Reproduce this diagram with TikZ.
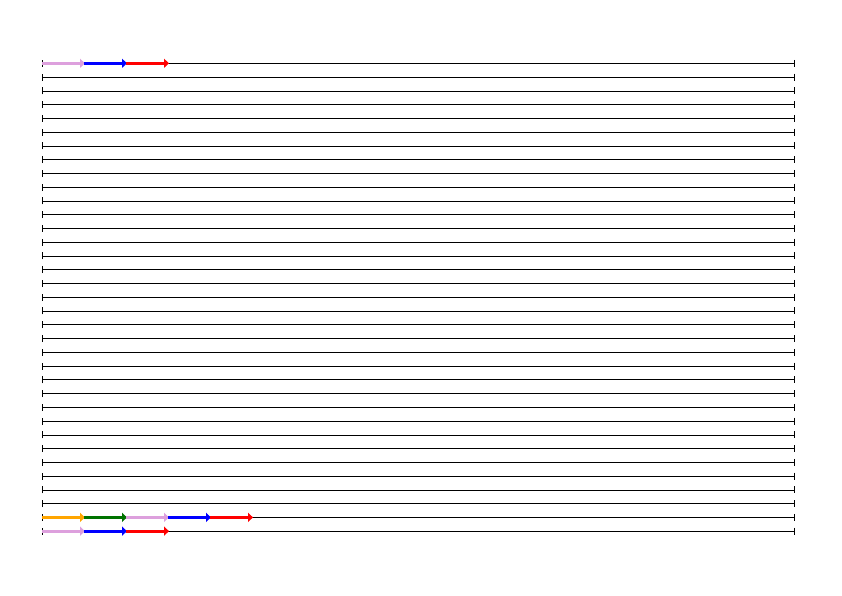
\documentclass[tikz,border=0pt]{standalone}
\usetikzlibrary{arrows.meta}
\definecolor{segpink}{RGB}{221,160,221}
\definecolor{segblue}{RGB}{0,0,255}
\definecolor{segred}{RGB}{255,0,0}
\definecolor{segorange}{RGB}{255,165,0}
\definecolor{seggreen}{RGB}{0,115,0}
\tikzset{
  track/.style={line width=0.6pt, black, {Bar[width=7pt,line width=1pt]}-{Bar[width=7pt,line width=1pt]}},
  seg/.style={line width=3.2pt, -{Triangle[length=5pt,width=9pt]}, shorten >=-1pt},
}
\begin{document}
\begin{tikzpicture}[x=1pt,y=-1pt]
\useasboundingbox (0,0) rectangle (842,595);
\foreach \i in {0,...,34}{
  \coordinate (L\i) at (42,{63.3+13.76*\i});
  \coordinate (R\i) at (795,{63.3+13.76*\i});
  \draw[track] (L\i) -- (R\i);
}
% top line
\path (L0) ++(42,0) coordinate (t1) ++(42,0) coordinate (t2) ++(42,0) coordinate (t3);
\draw[seg,segpink] (L0) -- (t1);
\draw[seg,segblue] (t1) -- (t2);
\draw[seg,segred] (t2) -- (t3);
% line 33
\path (L33) ++(42,0) coordinate (u1) ++(42,0) coordinate (u2) ++(42,0) coordinate (u3) ++(42,0) coordinate (u4) ++(42,0) coordinate (u5);
\draw[seg,segorange] (L33) -- (u1);
\draw[seg,seggreen] (u1) -- (u2);
\draw[seg,segpink] (u2) -- (u3);
\draw[seg,segblue] (u3) -- (u4);
\draw[seg,segred] (u4) -- (u5);
% line 34
\path (L34) ++(42,0) coordinate (v1) ++(42,0) coordinate (v2) ++(42,0) coordinate (v3);
\draw[seg,segpink] (L34) -- (v1);
\draw[seg,segblue] (v1) -- (v2);
\draw[seg,segred] (v2) -- (v3);
\end{tikzpicture}
\end{document}
